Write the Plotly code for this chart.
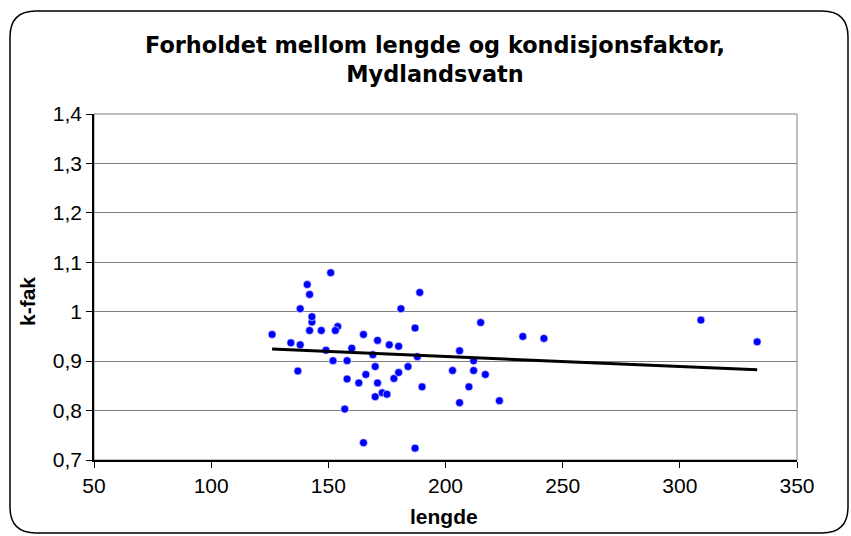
import numpy as np
import plotly.graph_objects as go

# lengde (mm) og kondisjonsfaktor, lest av figuren
lengde = [126, 134, 137, 138, 138, 141, 142, 142, 143, 143, 147, 151, 149, 152, 154, 153,
          157, 165, 160, 165, 171, 176, 180, 181, 169, 158, 170, 158, 166, 163, 171, 170,
          173, 175, 178, 180, 187, 189, 188, 184, 190, 187, 203, 206, 212, 212, 210, 206,
          217, 215, 223, 233, 242, 309, 333]
kfak = [0.954, 0.937, 0.880, 0.933, 1.006, 1.055, 1.035, 0.962, 0.979, 0.990, 0.962, 1.079,
        0.922, 0.901, 0.970, 0.962, 0.803, 0.735, 0.926, 0.954, 0.942, 0.933, 0.930, 1.006,
        0.913, 0.901, 0.889, 0.864, 0.873, 0.856, 0.856, 0.828, 0.836, 0.833, 0.865, 0.877,
        0.967, 1.039, 0.909, 0.889, 0.848, 0.724, 0.881, 0.921, 0.901, 0.881, 0.848, 0.816,
        0.873, 0.978, 0.820, 0.950, 0.946, 0.983, 0.939]

x_ticks = [50, 100, 150, 200, 250, 300, 350]
y_ticks = [0.7, 0.8, 0.9, 1.0, 1.1, 1.2, 1.3, 1.4]

# lineær trendlinje
a, b = np.polyfit(lengde, kfak, 1)
tx = np.array([min(lengde), max(lengde)])
ty = a * tx + b

W, H = 851, 536
ml, mr, mt, mb = 94, 54, 114, 76
pw, ph = W - ml - mr, H - mt - mb


def px_x(p):
    return (p - ml) / pw


def px_y(p):
    return (H - mb - p) / ph


# avrundet ramme rundt hele diagrammet
x0, x1, y0, y1, r = 10, 848, 11, 533, 26
path = (
    f"M {px_x(x0 + r)} {px_y(y0)} L {px_x(x1 - r)} {px_y(y0)} "
    f"Q {px_x(x1)} {px_y(y0)} {px_x(x1)} {px_y(y0 + r)} "
    f"L {px_x(x1)} {px_y(y1 - r)} Q {px_x(x1)} {px_y(y1)} {px_x(x1 - r)} {px_y(y1)} "
    f"L {px_x(x0 + r)} {px_y(y1)} Q {px_x(x0)} {px_y(y1)} {px_x(x0)} {px_y(y1 - r)} "
    f"L {px_x(x0)} {px_y(y0 + r)} Q {px_x(x0)} {px_y(y0)} {px_x(x0 + r)} {px_y(y0)} Z"
)

fig = go.Figure()
fig.add_trace(go.Scatter(
    x=lengde, y=kfak, mode="markers",
    marker=dict(color="#0000FF", size=8, line=dict(color="white", width=0.6)),
    showlegend=False,
))
fig.add_trace(go.Scatter(
    x=tx, y=ty, mode="lines",
    line=dict(color="black", width=3),
    showlegend=False,
))

font = "Liberation Sans, Arial, sans-serif"
fig.update_layout(
    width=W, height=H,
    margin=dict(l=ml, r=mr, t=mt, b=mb),
    paper_bgcolor="white", plot_bgcolor="white",
    separators=", ",
    font=dict(family=font, size=21, color="black"),
    shapes=[dict(type="path", path=path, xref="paper", yref="paper",
                 line=dict(color="black", width=1.5), layer="below")],
    annotations=[
        dict(text="<b>Forholdet mellom lengde og kondisjonsfaktor,<br>Mydlandsvatn</b>",
             xref="paper", yref="paper", x=px_x(435), y=px_y(60),
             xanchor="center", yanchor="middle", showarrow=False,
             font=dict(family="DejaVu Sans, sans-serif", size=22.4, color="black")),
        dict(text="<b>lengde</b>", xref="paper", yref="paper", x=px_x(444), y=px_y(516),
             xanchor="center", yanchor="middle", showarrow=False,
             font=dict(family=font, size=21)),
        dict(text="<b>k-fak</b>", xref="paper", yref="paper", x=px_x(27), y=px_y(302),
             xanchor="center", yanchor="middle", showarrow=False, textangle=-90,
             font=dict(family=font, size=21)),
    ],
)
fig.update_xaxes(
    range=[50, 350], tickvals=x_ticks, showgrid=False,
    showline=True, linecolor="black", linewidth=1.5,
    ticks="outside", ticklen=6, tickcolor="black",
    zeroline=False,
)
fig.update_yaxes(
    range=[0.7, 1.4], tickvals=y_ticks, showgrid=True, gridcolor="#808080", gridwidth=1,
    showline=True, linecolor="black", linewidth=1.5,
    ticks="outside", ticklen=6, tickcolor="black",
    zeroline=False,
)
# grå kant oppe og til høyre
fig.add_shape(type="rect", xref="paper", yref="paper", x0=0, y0=0, x1=1, y1=1,
              line=dict(color="#808080", width=1), layer="below")

fig.write_html("out.html", config={"displayModeBar": False},
               post_script="document.body.style.margin='0';")
